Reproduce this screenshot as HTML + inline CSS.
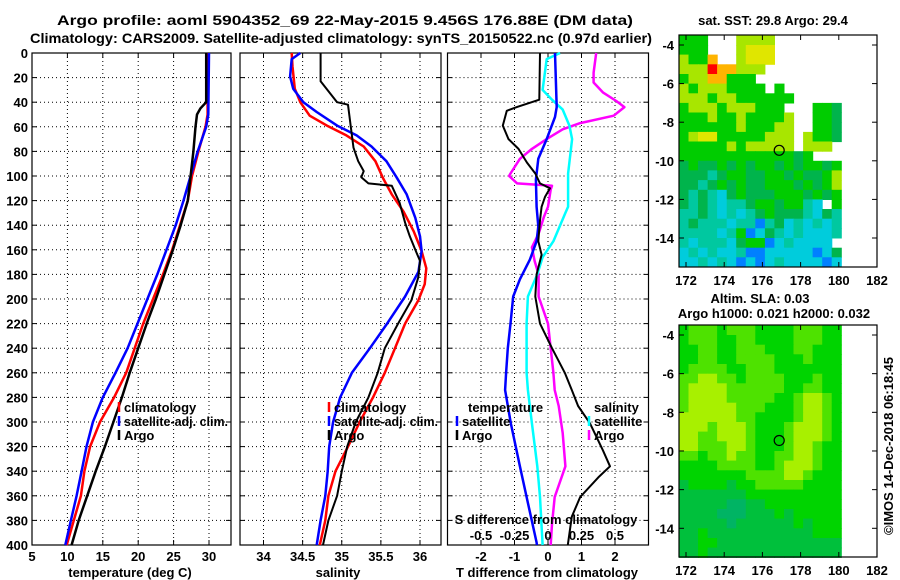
<!DOCTYPE html>
<html><head><meta charset="utf-8">
<style>
html,body{margin:0;padding:0;background:#fff;}
svg{display:block;}
text{font-family:"Liberation Sans",Arial,sans-serif;font-weight:bold;fill:#000;}
</style></head>
<body>
<svg id="fig" width="900" height="580" viewBox="0 0 900 580" xmlns="http://www.w3.org/2000/svg"></svg>
<script>
// ---------- data ----------
const depthTicks = [0,20,40,60,80,100,120,140,160,180,200,220,240,260,280,300,320,340,360,380,400];
const tempTicks = [5,10,15,20,25,30];
const salTicks = [34,34.5,35,35.5,36];
const salTickLabels = ["34","34.5","35","35.5","36"];
const tdiffTicks = [-2,-1,0,1,2];
const sdiffTicks = [-0.5,-0.25,0,0.25,0.5];
const sdiffTickLabels = ["-0.5","-0.25","0","0.25","0.5"];

const tClimDepth = [0,50,60,80,100,120,140,160,180,200,220,240,260,280,300,320,340,360,380,400];
const tClimVal   = [29.8,29.8,29.5,28.5,27.6,27,25.9,24.8,23.5,22.1,20.7,19.5,18.3,16.6,14.6,13.2,12.4,11.9,10.9,9.9];
const tSatDepth  = [0,50,60,80,100,120,140,160,180,200,220,240,260,280,300,320,340,360,380,400];
const tSatVal    = [30,29.9,29.6,28.4,27.4,26.4,25.3,24,22.7,21.3,19.9,18.5,16.8,15,13.6,12.7,12,11.3,10.5,9.7];
const tArgoDepth = [0,40,45,50,60,80,100,120,140,160,180,200,220,240,260,280,300,320,340,360,380,400];
const tArgoVal   = [29.6,29.6,28.8,28.3,28.1,27.8,27.4,27,26,24.9,23.7,22.5,21.2,20,18.8,17.7,16.5,15.3,14,12.8,11.6,10.6];

const sClimDepth = [0,11,29,40,51,59,67,76,88,102,115,129,145,161,175,188,201,220,240,260,280,300,320,340,360,380,400];
const sClimVal   = [34.36,34.37,34.4,34.47,34.59,34.81,35.06,35.28,35.43,35.53,35.64,35.79,35.92,36.02,36.08,36.06,35.98,35.81,35.68,35.55,35.4,35.23,35.08,34.92,34.83,34.79,34.72];
const sSatDepth  = [0,5,19,29,40,48,59,67,76,88,101,115,134,149,161,178,198,220,240,260,280,300,320,340,360,380,400];
const sSatVal    = [34.47,34.36,34.34,34.38,34.51,34.68,34.94,35.19,35.38,35.57,35.7,35.83,35.94,36.0,36.02,35.98,35.81,35.58,35.36,35.13,34.98,34.89,34.84,34.82,34.79,34.73,34.68];
const sArgoDepth = [0,23,40,42,67,77,88,96,101,106,108,122,138,149,160,169,182,201,220,240,260,280,300,320,340,360,380,400];
const sArgoVal   = [34.73,34.73,34.94,35.08,35.13,35.15,35.21,35.28,35.25,35.34,35.64,35.74,35.81,35.87,35.94,36.0,35.98,35.89,35.72,35.55,35.46,35.34,35.18,35.07,35.0,34.94,34.83,34.76];

const dTArgoDepth = [0,38,44,47,59,70,78,89,98,106,110,117,125,136,153,164,180,198,220,240,260,274,287,301,323,336,345,361,377,400];
const dTArgoVal   = [-0.24,-0.26,-0.93,-1.23,-1.35,-1.18,-0.88,-0.63,-0.38,-0.24,0.06,-0.09,-0.19,-0.24,-0.29,-0.19,-0.34,-0.38,-0.24,0.12,0.5,0.71,0.9,1.25,1.64,1.85,1.5,0.96,0.71,0.59];
const dTSatDepth  = [0,44,52,70,86,103,125,141,153,168,184,198,220,240,260,274,301,336,361,398,400];
const dTSatVal    = [0.21,0.26,0.21,-0.04,-0.29,-0.36,-0.34,-0.29,-0.34,-0.54,-0.84,-1.04,-1.12,-1.2,-1.25,-1.28,-1.11,-0.84,-0.64,-0.34,-0.33];
const dSSatDepth  = [0,5,30,38,46,59,70,98,125,130,153,166,180,198,220,240,260,274,301,336,361,400];
const dSSatVal    = [0.09,-0.01,-0.04,0.03,0.11,0.16,0.18,0.15,0.15,0.13,0.04,-0.04,-0.08,-0.15,-0.16,-0.16,-0.16,-0.15,-0.12,-0.08,-0.06,-0.04];
const dSArgoDepth = [0,16,24,32,39,44,51,57,62,70,78,86,98,100,106,108,111,125,133,147,158,169,180,198,220,240,260,274,287,309,336,361,383,400];
const dSArgoVal   = [0.36,0.34,0.34,0.41,0.51,0.57,0.49,0.24,0.11,-0.01,-0.12,-0.21,-0.28,-0.29,-0.23,0.03,0.02,0.0,-0.03,-0.07,-0.12,-0.1,-0.07,-0.07,0.0,0.02,0.04,0.05,0.08,0.11,0.13,0.05,0.03,0.02];

const lonTicks = [172,174,176,178,180,182];
const latTicks = [-4,-6,-8,-10,-12,-14];
const argoLon = 176.88, argoLat = -9.456;
const sstRows = [
"ggg...llll.......",
"ggg...lyyy.......",
"lggo..lyyy.......",
"lllroolll........",
"gllooggg.........",
"lglllgggg.g......",
"lllgllgggggg.....",
"glllglllggg...ggd",
"ggglgglggggl..ggd",
"gggggglgggll..ggd",
"glyyggggglll.lggd",
"ggggglglllll.lll.",
"ggggggggggggdg...",
"dgddgdgdggdgdggdg",
"dddtdggddggdgddgl",
"ddtdgdgddgggdgdgl",
"dtdtcdgdddgggdgdg",
"dtdtcttdggdggtc.g",
"ttdtctctdgdddtcdt",
"tdtttcttbtdctctct",
"ttttctgbcdtctccct",
"tctttcdggbctcccc.",
"ctctcctbbcccccbcd",
"cctctcbcbctccccbc"];
const slaRows = [
"GLLLGLLLGGGGLLLGG",
"GLLLGGLLGGGGLLLGG",
"GGLLGGLLLGGGLLGGG",
"GGLLGGLLLLGGGLGGG",
"GLLLLGGLLLGGGGGGG",
"LLYYLLGLLLLGGGLGG",
"LYYYYLLLLLLGGLLGG",
"LYYYYLLLLLGGLYYLG",
"LYYYYYLLLGGGLYYLG",
"YYYYYYLLGGGGLYYLG",
"YYYLYYYLGGGLYYYLG",
"YYLLYYYLGGGLYYYLG",
"YYLLLYYLGGGLYYLGG",
"LLGLLYLLGGLLYYLGG",
"GGGGLLLLGGLYYYLGG",
"GGGGGGGLLLLYYLGGG",
"DGGGGDGGLLLLLGGGG",
"DDDDDDDGGGGGGGGGG",
"DDDDDTTDDGGGGGGGG",
"DDDDTTTDDDGDGGGGG",
"DDDDDTDDDDDDGDGGG",
"DDGDDDDDDDDDDDGGG",
"DDGGDDDDDDDDDDDDD",
"DDGDDDDDDDDDDDDDD"];

// ---------- helpers ----------
const NS="http://www.w3.org/2000/svg";
const svg=document.getElementById('fig');
function mk(tag,attrs,parent){const e=document.createElementNS(NS,tag);for(const k in attrs)e.setAttribute(k,attrs[k]);(parent||svg).appendChild(e);return e;}
function txt(s,x,y,anchor,size,parent){const t=mk('text',{x:x,y:y,'text-anchor':anchor||'middle','font-size':size||13},parent);t.textContent=s;return t;}

const Y0=53, Y1=545;
function yD(d){return Y0+(d/400)*(Y1-Y0);}
function linScale(v0,v1,p0,p1){return v=>p0+(v-v0)/(v1-v0)*(p1-p0);}
const P1={x0:32,x1:231,s:linScale(5,30,32,209)};
const P2={x0:240,x1:441,s:linScale(34,36,263.5,420)};
const P3={x0:447.5,x1:648.5,s:linScale(-3,3,447.5,648.5)};
const sdX = v=>P3.s(v*4);

function panelFrame(P,xticks,name){
  const g=mk('g',{});
  
  
  xticks.forEach(v=>{const x=P.s(v);
    mk('line',{x1:x,y1:Y0,x2:x,y2:Y1,stroke:'#000','stroke-width':1,'stroke-dasharray':'1,3'},g);
    mk('line',{x1:x,y1:Y1,x2:x,y2:Y1-5,stroke:'#000'},g);
    mk('line',{x1:x,y1:Y0,x2:x,y2:Y0+5,stroke:'#000'},g);});
  depthTicks.forEach(d=>{const y=yD(d);
    if(d>0&&d<400) mk('line',{x1:P.x0,y1:y,x2:P.x1,y2:y,stroke:'#000','stroke-width':1,'stroke-dasharray':'1,3'},g);
    mk('line',{x1:P.x0,y1:y,x2:P.x0+5,y2:y,stroke:'#000'},g);
    mk('line',{x1:P.x1,y1:y,x2:P.x1-5,y2:y,stroke:'#000'},g);});
  mk('rect',{x:P.x0,y:Y0,width:P.x1-P.x0,height:Y1-Y0,fill:'none',stroke:'#000','stroke-width':1.2},g);
  return g;
}
function series(depths,vals,sc,color,w,name){
  const pts=depths.map((d,i)=>sc(vals[i]).toFixed(1)+','+yD(d).toFixed(1)).join(' ');
  const p=mk('polyline',{points:pts,fill:'none',stroke:color,'stroke-width':w,'stroke-linejoin':'round'});
  
  
  return p;
}
function legendEntry(x,y,color,label,name,len){
  const g=mk('g',{});
  
  
  if(color) mk('line',{x1:x,y1:y-10,x2:x,y2:y,stroke:color,'stroke-width':2.5},g);
  const t=txt(label,x+(color?5:0),y,'start',13,g);
  if(len){t.setAttribute('textLength',len);t.setAttribute('lengthAdjust','spacingAndGlyphs');}
}

// ---------- titles ----------
let t=txt("Argo profile: aoml 5904352_69 22-May-2015 9.456S 176.88E (DM data)",345,25,'middle',14);
t.setAttribute('textLength','576');
t.setAttribute('lengthAdjust','spacingAndGlyphs');


t=txt("Climatology: CARS2009. Satellite-adjusted climatology: synTS_20150522.nc (0.97d earlier)",341,43,'middle',14);
t.setAttribute('textLength','622');
t.setAttribute('lengthAdjust','spacingAndGlyphs');



// ---------- panel 1 temperature ----------
panelFrame(P1,tempTicks,'temperature-panel');
depthTicks.forEach(d=>{const e=txt(String(d),28,yD(d)+5,'end',13);
  
  });
tempTicks.forEach(v=>{const e=txt(String(v),P1.s(v),561,'middle',13);
  
  });
t=txt("temperature (deg C)",130,577,'middle',13);


series(tClimDepth,tClimVal,P1.s,'#ff0000',2.5,'temperature-climatology-line');
series(tSatDepth,tSatVal,P1.s,'#0000ff',2.5,'temperature-satellite-line');
series(tArgoDepth,tArgoVal,P1.s,'#000000',2.5,'temperature-argo-line');
legendEntry(119,412,'#ff0000','climatology','legend-climatology');
legendEntry(119,426,'#0000ff','satellite-adj. clim.','legend-satellite',104);
legendEntry(119,440,'#000000','Argo','legend-argo');

// ---------- panel 2 salinity ----------
panelFrame(P2,salTicks,'salinity-panel');
salTicks.forEach((v,i)=>{const e=txt(salTickLabels[i],P2.s(v),561,'middle',13);
  
  });
t=txt("salinity",338,577,'middle',13);


series(sClimDepth,sClimVal,P2.s,'#ff0000',2.5,'salinity-climatology-line');
series(sSatDepth,sSatVal,P2.s,'#0000ff',2.5,'salinity-satellite-line');
series(sArgoDepth,sArgoVal,P2.s,'#000000',2,'salinity-argo-line');
legendEntry(329,412,'#ff0000','climatology','legend2-climatology');
legendEntry(329,426,'#0000ff','satellite-adj. clim.','legend2-satellite',104);
legendEntry(329,440,'#000000','Argo','legend2-argo');

// ---------- panel 3 differences ----------
panelFrame(P3,tdiffTicks,'difference-panel');
tdiffTicks.forEach(v=>{const e=txt(String(v),P3.s(v),561,'middle',13);
  
  });
t=txt("T difference from climatology",547,577,'middle',13);


series(dSArgoDepth,dSArgoVal,sdX,'#ff00ff',2.5,'sdiff-argo-line');
series(dSSatDepth,dSSatVal,sdX,'#00ffff',2.5,'sdiff-satellite-line');
series(dTSatDepth,dTSatVal,P3.s,'#0000ff',2.5,'tdiff-satellite-line');
series(dTArgoDepth,dTArgoVal,P3.s,'#000000',2,'tdiff-argo-line');
legendEntry(468,412,null,'temperature','legend3-temperature-header');
legendEntry(457,426,'#0000ff','satellite','legend3-t-satellite');
legendEntry(457,440,'#000000','Argo','legend3-t-argo');
legendEntry(594,412,null,'salinity','legend3-salinity-header');
legendEntry(589,426,'#00ffff','satellite','legend3-s-satellite');
legendEntry(589,440,'#ff00ff','Argo','legend3-s-argo');
t=txt("S difference from climatology",546,524,'middle',13);


sdiffTicks.forEach((v,i)=>{const e=txt(sdiffTickLabels[i],sdX(v),540,'middle',13);
  
  });

// ---------- maps ----------
const sstColors={g:'#00cc00',l:'#a8e600',y:'#e0e600',o:'#ffb400',r:'#ff0000',d:'#00b44c',t:'#00c8a0',c:'#00ccdc',b:'#0080ff'};
const slaColors={G:'#00d400',L:'#4ee200',Y:'#a8f000',D:'#00c03c',T:'#00b464'};
function drawMap(M,rows,colors,name){
  const g=mk('g',{});
  
  
  const lx=linScale(172,182,M.lx0,M.lx1), ly=linScale(-4,-14,M.ly0,M.ly1);
  const cw=lx(172.5)-lx(172), ch=ly(-4.5)-ly(-4);
  rows.forEach((r,j)=>{for(let i=0;i<r.length;i++){const c=r[i]; if(c==='.')continue;
    const x=lx(171.63+0.5*i), y=ly(-3.5-0.5*j);
    const cell=mk('rect',{x:x.toFixed(1),y:y.toFixed(1),width:(cw+0.6).toFixed(1),height:(ch+0.6).toFixed(1),fill:colors[c]},g);
    
    }});
  mk('rect',{x:M.x0,y:M.y0,width:M.x1-M.x0,height:M.y1-M.y0,fill:'none',stroke:'#000','stroke-width':1.2},g);
  lonTicks.forEach(v=>{const x=lx(v);
    mk('line',{x1:x,y1:M.y1,x2:x,y2:M.y1-5,stroke:'#000'},g);
    mk('line',{x1:x,y1:M.y0,x2:x,y2:M.y0+5,stroke:'#000'},g);
    const e=txt(String(v),x,M.y1+18,'middle',13,g);
    
    });
  latTicks.forEach(v=>{const y=ly(v);
    mk('line',{x1:M.x0,y1:y,x2:M.x0+5,y2:y,stroke:'#000'},g);
    mk('line',{x1:M.x1,y1:y,x2:M.x1-5,y2:y,stroke:'#000'},g);
    const e=txt(String(v),M.x0-5,y+5,'end',13,g);
    
    });
  const c=mk('circle',{cx:lx(argoLon),cy:ly(argoLat),r:5,fill:'none',stroke:'#000','stroke-width':1.2},g);
  
  
}
drawMap({x0:679,x1:877,y0:35,y1:267,lx0:686,lx1:877,ly0:45,ly1:238},sstRows,sstColors,'sst-map');
drawMap({x0:679,x1:877,y0:325,y1:557,lx0:686,lx1:877,ly0:335,ly1:528.3},slaRows,slaColors,'sla-map');
t=txt("sat. SST: 29.8 Argo: 29.4",773,25,'middle',13);


t=txt("Altim. SLA: 0.03",760,303,'middle',13);


t=txt("Argo h1000: 0.021 h2000: 0.032",774,318,'middle',13);


t=txt("©IMOS 14-Dec-2018 06:18:45",0,0,'middle',13);
t.setAttribute('transform','translate(893,446) rotate(-90)');
t.setAttribute('font-weight','normal');


</script>
</body></html>
